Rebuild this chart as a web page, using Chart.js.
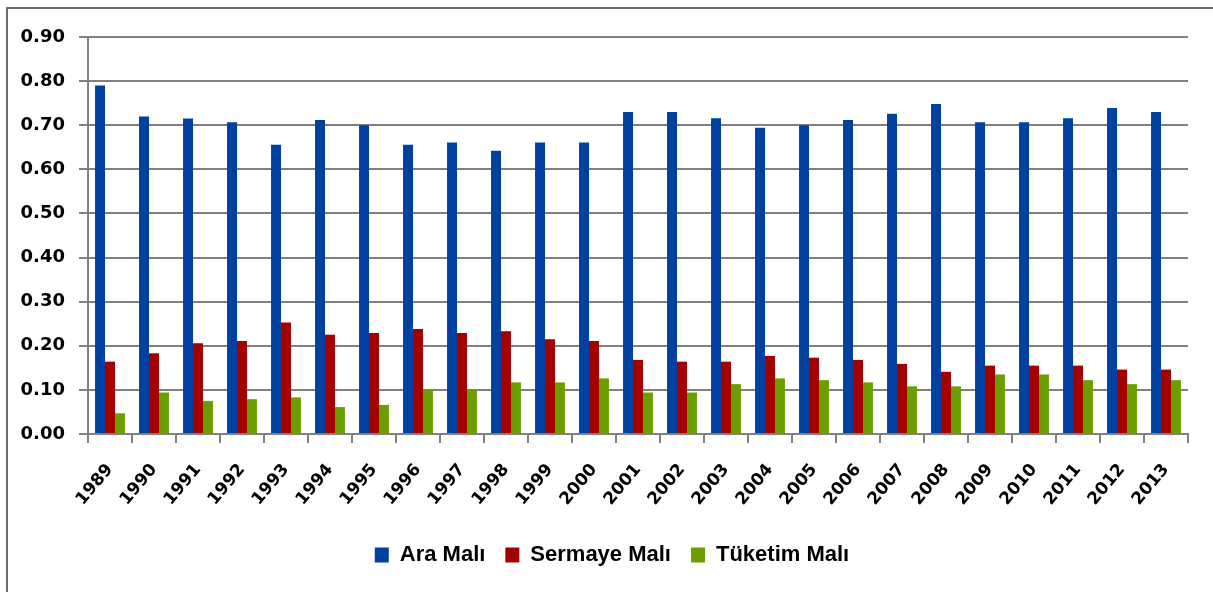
<!DOCTYPE html>
<html>
<head>
<meta charset="utf-8">
<script src="https://cdn.jsdelivr.net/npm/chart.js@4"></script>
<style>
  body { margin: 0; background: #fff; overflow: hidden; }
  #frame { position: absolute; left: 6px; top: 7px; width: 1400px; height: 800px; border-left: 2px solid #6e6e6e; border-top: 2px solid #6e6e6e; }
  #wrap { position: absolute; left: 0; top: 0; width: 1213px; height: 592px; }
</style>
</head>
<body>
<div id="frame"></div>
<div id="wrap"><canvas id="chart"></canvas></div>
<script>
// years on the x axis
const years = ['1989', '1990', '1991', '1992', '1993', '1994', '1995', '1996', '1997', '1998', '1999', '2000',
  '2001', '2002', '2003', '2004', '2005', '2006', '2007', '2008', '2009', '2010', '2011', '2012', '2013'];

// series values
const araMali = [0.79, 0.72, 0.715, 0.707, 0.656, 0.712, 0.70, 0.656, 0.661, 0.642, 0.661, 0.661,
  0.73, 0.73, 0.716, 0.694, 0.70, 0.712, 0.726, 0.748, 0.707, 0.707, 0.716, 0.739, 0.73];
const sermayeMali = [0.164, 0.183, 0.206, 0.211, 0.253, 0.225, 0.229, 0.238, 0.229, 0.233, 0.215, 0.211,
  0.168, 0.164, 0.164, 0.177, 0.173, 0.168, 0.159, 0.141, 0.155, 0.155, 0.155, 0.146, 0.146];
const tuketimMali = [0.047, 0.094, 0.075, 0.079, 0.083, 0.061, 0.066, 0.102, 0.102, 0.117, 0.117, 0.126,
  0.094, 0.094, 0.113, 0.126, 0.122, 0.117, 0.108, 0.108, 0.135, 0.135, 0.122, 0.113, 0.122];

const yTicks = [0, 0.1, 0.2, 0.3, 0.4, 0.5, 0.6, 0.7, 0.8, 0.9];

const colors = {
  blue: '#0040a0',
  red: '#a30000',
  green: '#6b9e00',
  grid: '#808080'
};

// nudge the legend a little to the right, like in the original
const legendShift = {
  id: 'legendShift',
  afterLayout(chart) {
    chart.legend.left += 18;
    chart.legend.right += 18;
  }
};

const ctx = document.getElementById('chart').getContext('2d');

const chart = new Chart(ctx, {
  type: 'bar',
  data: {
    labels: years,
    datasets: [{
      label: 'Ara Malı',
      data: araMali,
      backgroundColor: colors.blue
    }, {
      label: 'Sermaye Malı',
      data: sermayeMali,
      backgroundColor: colors.red
    }, {
      label: 'Tüketim Malı',
      data: tuketimMali,
      backgroundColor: colors.green
    }]
  },
  plugins: [legendShift],
  options: {
    responsive: true,
    maintainAspectRatio: false,
    animation: false,
    datasets: {
      bar: {
        categoryPercentage: 0.68,
        barPercentage: 1
      }
    },
    layout: {
      padding: { top: 37, right: 25, bottom: 16, left: 0 }
    },
    plugins: {
      tooltip: { enabled: false },
      legend: {
        position: 'bottom',
        labels: {
          color: '#000',
          boxWidth: 14,
          boxHeight: 15,
          padding: 20,
          font: { family: 'Liberation Sans', weight: 'bold', size: 22 }
        }
      }
    },
    scales: {
      x: {
        afterFit: function(scale) { scale.height = 90; },
        grid: {
          drawOnChartArea: false,
          drawTicks: true,
          tickLength: 9,
          color: colors.grid,
          lineWidth: 2
        },
        border: { color: colors.grid, width: 2 },
        ticks: {
          color: '#000',
          minRotation: 50,
          maxRotation: 50,
          padding: 17,
          font: { family: 'DejaVu Sans', weight: 'bold', size: 17 }
        }
      },
      y: {
        min: 0,
        max: 0.9,
        afterFit: function(scale) { scale.width = 88; },
        afterBuildTicks: function(scale) { scale.ticks = yTicks.map(v => ({ value: v })); },
        grid: {
          color: colors.grid,
          lineWidth: 2,
          tickLength: 9
        },
        border: { color: colors.grid, width: 2 },
        ticks: {
          color: '#000',
          padding: 14,
          font: { family: 'DejaVu Sans', weight: 'bold', size: 18 },
          callback: function(value) { return value.toFixed(2); }
        }
      }
    }
  }
});
</script>
</body>
</html>
